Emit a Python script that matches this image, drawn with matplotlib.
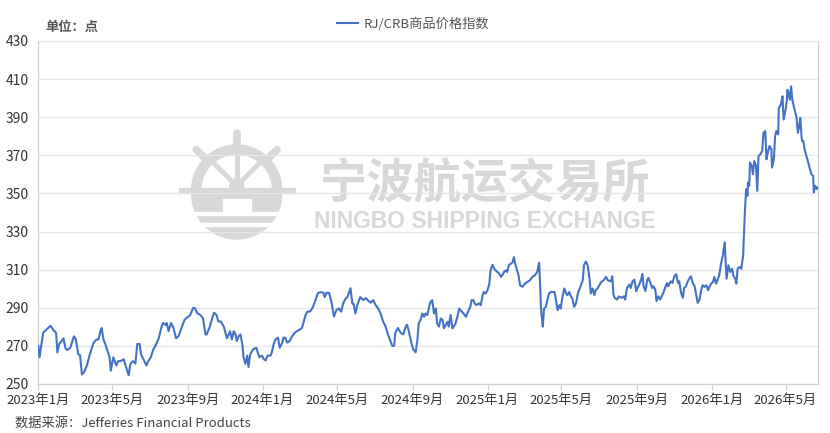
import matplotlib
matplotlib.use("Agg")
import matplotlib.pyplot as plt
from matplotlib.patches import Wedge, Circle, Rectangle
import pandas as pd
import numpy as np

plt.rcParams['font.family'] = ['Noto Sans CJK SC', 'DejaVu Sans']

# data: day offset from 2023-01-01 and index value (points)
start = pd.Timestamp("2023-01-01")
days = [
    0, 2, 8, 16, 20, 24, 29, 31, 34, 38, 41, 44, 47, 52, 54, 58, 61, 65, 68, 71,
    75, 79, 84, 90, 95, 98, 101, 103, 106, 109, 112, 116, 118, 122, 127, 130, 134, 139, 142, 147,
    150, 154, 158, 161, 165, 167, 171, 176, 179, 183, 187, 192, 196, 200, 203, 207, 209, 212, 216, 220,
    224, 228, 232, 238, 242, 247, 252, 255, 259, 264, 268, 272, 274, 279, 283, 286, 290, 293, 297, 302,
    307, 312, 315, 318, 321, 323, 326, 329, 332, 334, 337, 340, 342, 345, 348, 350, 355, 357, 360, 364,
    367, 370, 373, 378, 380, 383, 386, 390, 393, 397, 399, 402, 405, 409, 413, 417, 421, 425, 429, 432,
    435, 438, 442, 446, 448, 451, 455, 459, 464, 466, 469, 473, 475, 478, 481, 485, 489, 493, 496, 500,
    503, 505, 508, 511, 513, 516, 519, 522, 524, 529, 533, 536, 541, 545, 549, 553, 557, 561, 565, 569,
    572, 576, 579, 581, 585, 590, 594, 598, 600, 603, 607, 610, 614, 617, 619, 622, 625, 628, 630, 633,
    636, 638, 641, 644, 647, 649, 652, 655, 658, 660, 663, 666, 668, 671, 674, 676, 679, 682, 685, 687,
    692, 696, 698, 703, 705, 708, 710, 713, 717, 720, 723, 725, 728, 731, 734, 736, 739, 742, 744, 747,
    750, 753, 755, 758, 761, 763, 766, 769, 772, 774, 776, 779, 781, 784, 788, 792, 796, 800, 804, 808,
    812, 815, 817, 818, 819, 821, 823, 826, 829, 831, 834, 837, 840, 842, 845, 848, 850, 853, 856, 859,
    861, 864, 867, 869, 872, 875, 878, 880, 883, 886, 888, 891, 894, 897, 899, 902, 905, 907, 910, 913,
    916, 920, 924, 927, 932, 934, 936, 938, 942, 945, 949, 953, 955, 958, 962, 964, 967, 970, 973, 975,
    978, 981, 983, 985, 988, 991, 993, 996, 999, 1001, 1004, 1006, 1009, 1012, 1016, 1020, 1023, 1025, 1029, 1032,
    1035, 1038, 1041, 1043, 1046, 1049, 1051, 1054, 1057, 1060, 1062, 1065, 1068, 1070, 1073, 1076, 1079, 1081, 1084, 1087,
    1090, 1092, 1095, 1098, 1100, 1103, 1106, 1108, 1111, 1114, 1117, 1118, 1120, 1123, 1126, 1129, 1131, 1134, 1136, 1138,
    1141, 1144, 1147, 1148, 1150, 1152, 1154, 1155, 1157, 1158, 1161, 1163, 1165, 1168, 1170, 1172, 1175, 1178, 1180, 1183,
    1185, 1187, 1190, 1193, 1194, 1197, 1199, 1201, 1204, 1205, 1207, 1209, 1211, 1212, 1213, 1216, 1218, 1219, 1221, 1223,
    1225, 1227, 1230, 1232, 1234, 1236, 1238, 1240, 1242, 1243, 1245, 1247, 1250, 1253, 1255, 1258, 1261, 1262, 1264, 1267,
    1268,
]
vals = [
    270, 264, 277, 279.4, 280.6, 278.5, 276.8, 266.6, 271, 272.6, 274, 269, 267.8, 269, 271, 275, 273.5, 265.7, 265, 255,
    256.5, 259.7, 265.7, 271.7, 273.4, 273.4, 277.7, 279.4, 273.4, 271, 268, 264, 257, 264, 259.7, 262, 262, 263, 259.7, 254.6,
    260.7, 262, 260.7, 271, 271, 265.7, 263, 259.7, 262, 264, 268, 271, 274, 279.4, 282, 281, 282, 277.7, 282, 279.4,
    274, 275, 278.5, 283.7, 284.9, 286, 290, 289.7, 287, 286.2, 284.5, 276, 276, 280, 284.5, 287.4, 286.2, 282.8, 282.8, 280,
    274, 277.7, 273.4, 277.7, 276, 272.6, 275, 276, 270.9, 264, 260.6, 264.9, 258.9, 265.7, 267.4, 268.3, 269, 266.6, 264, 264.9,
    263, 262.3, 264.9, 264.9, 266.6, 270.9, 273.4, 274.3, 269, 271.7, 274.3, 274.3, 271.7, 272.6, 275, 276.8, 277.7, 278.5, 279.4, 282.8,
    286.2, 288, 288, 289.7, 291.4, 294, 297.7, 298.2, 297.9, 295.6, 297.9, 297.9, 295.6, 291.4, 285.4, 288.8, 289.7, 288, 292.2, 294.8,
    295.6, 297.4, 300.3, 292.2, 292.2, 287, 291.4, 294, 295.6, 294, 295.1, 294, 292.7, 294, 291.4, 289.7, 287, 282.8, 280.3, 276,
    273.4, 270, 270, 276.8, 279.4, 276.8, 276, 280.3, 281.1, 277.7, 271.7, 268.3, 266.6, 273.4, 281.8, 283.6, 287, 285.3, 287, 286.2,
    290.5, 293, 294, 287, 289.6, 281.8, 280.1, 284.4, 283.6, 279.2, 281, 282.7, 280.1, 286.2, 279.2, 280.1, 281.8, 285.3, 289.6, 288.8,
    287, 285.3, 287, 290.5, 294, 294, 292.3, 291.4, 292.3, 291.4, 296.6, 298.3, 297.5, 299.2, 302.7, 309.7, 312.6, 310.5, 309.7, 308.8,
    307.9, 306.2, 307, 308.8, 309.7, 308.8, 312.6, 313.1, 314, 316.6, 313.1, 309.7, 307.9, 301.8, 301, 302.7, 303.6, 304.4, 306.2, 307,
    308.8, 313.7, 299.2, 289.6, 286.2, 280.1, 289.6, 290.5, 294.9, 297.5, 298.3, 298.3, 298.3, 294.9, 288.8, 291.4, 289.6, 295.7, 300.1, 297.5,
    296.6, 298.3, 295.7, 294.9, 290.5, 292.3, 297.5, 299.2, 301.8, 304.4, 312.3, 314.3, 312.3, 305.3, 297.5, 300.1, 296.6, 299.2, 300.1, 301.8,
    303.6, 304.4, 306.2, 304.4, 303.9, 306.5, 297, 295.2, 294.3, 296, 295.2, 296, 294.3, 300.4, 302.2, 300.4, 303.9, 304.8, 298.7, 300.4,
    302.2, 304.8, 307.7, 301.3, 298.7, 304.8, 305.7, 303, 300.4, 301.3, 299.6, 293.5, 296, 294.3, 297, 300.4, 303, 301.3, 303.9, 303,
    306.5, 307.7, 303, 303.9, 297.8, 295.2, 300.4, 301.3, 303.9, 305.7, 306.5, 303, 301.3, 297.8, 292.6, 294.3, 299.6, 301.8, 301, 301.8,
    299.2, 301, 302.7, 303.6, 306.2, 302.7, 305.3, 307, 313.1, 317.5, 324.4, 317.5, 305.3, 312.3, 308.8, 310.5, 307, 305.3, 302.7, 310.5,
    311.4, 310.5, 317.5, 326.2, 341.8, 352.3, 348.8, 355.7, 354, 366.2, 364.4, 360.1, 367, 364.4, 351.4, 369.7, 370.5, 372.3, 381.8, 382.7,
    367.9, 371.4, 374.9, 373.1, 363.6, 367.9, 380.1, 382.7, 381, 394.9, 395.7, 397.5, 401, 394, 388.8, 394, 398.3, 404.4, 402.7, 399.2,
    406.2, 399.2, 394.9, 392.3, 389.7, 381.8, 384.7, 389.7, 380.1, 377.5, 377.5, 373.1, 369.7, 366.2, 363.6, 360.1, 359.2, 350.5, 354, 352.3,
    353.1,
]
y_ticks = list(range(250, 431, 20))
tick_months = pd.date_range("2023-01-01", "2026-05-01", freq="4MS")
series_name = "RJ/CRB商品价格指数"
unit_text = "单位：点"
source_text = "数据来源：Jefferies Financial Products"
wm_cn = "宁波航运交易所"
wm_en = "NINGBO SHIPPING EXCHANGE"

dates = start + pd.to_timedelta(days, unit="D")

W, H = 830, 433
fig = plt.figure(figsize=(W / 100, H / 100), dpi=100)

# watermark layer in pixel coordinates
wm = fig.add_axes([0, 0, 1, 1], zorder=0)
wm.set_xlim(0, W)
wm.set_ylim(H, 0)
wm.axis("off")
wc = "#d8d8d8"
cx, cy = 236.7, 190
wm.add_patch(Wedge((cx, cy), 45, 180, 360, width=9, color=wc))
wm.add_patch(Wedge((cx, cy + 4), 45, 0, 180, color=wc))
wm.add_patch(Rectangle((cx - 14, cy + 9), 28, 13, color="white"))
wm.add_patch(Rectangle((cx - 46, cy + 22), 92, 3, color="white"))
wm.add_patch(Rectangle((cx - 46, cy + 33), 92, 3, color="white"))
wm.add_patch(Rectangle((cx - 58, cy - 2.5), 116, 5, color=wc))
for a in [45, 90, 135]:
    r = np.deg2rad(a)
    wm.plot([cx, cx + 37 * np.cos(r)], [cy - 4, cy - 4 - 37 * np.sin(r)], color=wc, lw=3.5, solid_capstyle="butt")
    wm.plot([cx + 44 * np.cos(r), cx + 57 * np.cos(r)], [cy - 44 * np.sin(r), cy - 57 * np.sin(r)],
            color=wc, lw=5.5, solid_capstyle="round")
wm.add_patch(Circle((cx, cy - 4), 7, color=wc))
wm.text(485, 184, wm_cn, fontsize=34, color=wc, ha="center", va="center", fontweight="bold")
wm.text(485, 221, wm_en, fontsize=16.5, color=wc, ha="center", va="center", fontweight="bold",
        family=["Liberation Sans", "DejaVu Sans"])

# main chart
ax = fig.add_axes([38.3 / W, 49 / H, (817.5 - 38.3) / W, 343 / H], zorder=1)
ax.set_facecolor("none")
line, = ax.plot(dates, vals, color="#4472C4", lw=1.5, label=series_name, zorder=3)

ax.set_ylim(250, 430)
ax.set_yticks(y_ticks)
ax.set_xlim(dates[0], dates[-1])
ax.set_xticks(tick_months)
ax.set_xticklabels([f"{d.year}年{d.month}月" for d in tick_months])

ax.grid(axis="y", color="#e6e6e6", lw=0.9)
ax.set_axisbelow(True)
for s in ["left", "right", "bottom"]:
    ax.spines[s].set_color("#d0d0d0")
    ax.spines[s].set_linewidth(0.9)
ax.spines["top"].set_visible(False)
ax.tick_params(axis="y", length=0, pad=7, labelsize=10, labelcolor="#333333")
ax.tick_params(axis="x", length=4, width=0.9, color="#d0d0d0", pad=3, labelsize=9.5, labelcolor="#333333")

fig.text(45 / W, 1 - 27 / H, unit_text, fontsize=9.5, color="#555555", va="center", fontweight="bold")
fig.text(15 / W, 1 - 423 / H, source_text, fontsize=9.5, color="#444444", va="center")
ax.legend(loc="center", bbox_to_anchor=(413 / W, 1 - 24 / H), bbox_transform=fig.transFigure,
          frameon=False, handlelength=1.6, handletextpad=0.4, fontsize=9.5, labelcolor="#555555")

fig.savefig("out.png", dpi=100)
